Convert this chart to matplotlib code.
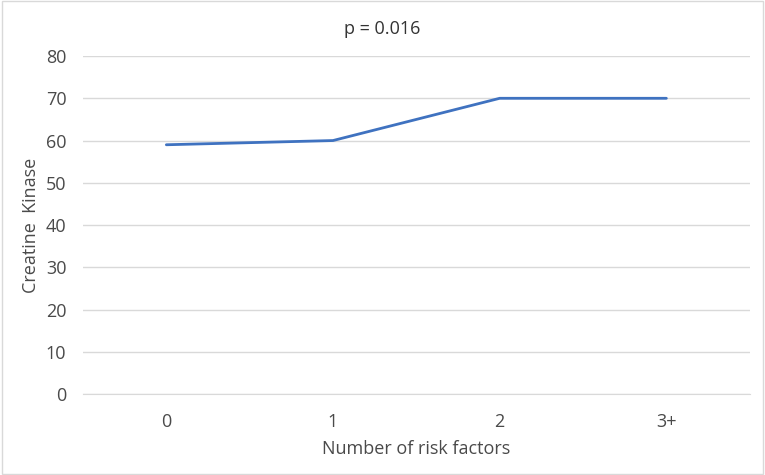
import matplotlib.pyplot as plt
from matplotlib.patches import Rectangle

# data
categories = ["0", "1", "2", "3+"]
creatine_kinase = [59, 60, 70, 70]
y_ticks = [0, 10, 20, 30, 40, 50, 60, 70, 80]

text_color = "#4A4A4A"
plt.rcParams["font.family"] = ["Open Sans", "DejaVu Sans"]

fig = plt.figure(figsize=(7.65, 4.75), dpi=100)
ax = fig.add_axes([0.1085, 0.1705, 0.8715, 0.7115])

x = list(range(len(categories)))
ax.plot(x, creatine_kinase, color="#3F72C0", linewidth=2.0, solid_capstyle="round")

ax.set_xlim(-0.5, len(categories) - 0.5)
ax.set_ylim(0, 80)
ax.set_yticks(y_ticks)
ax.set_xticks(x)
ax.set_xticklabels(categories)
ax.grid(axis="y", color="#D9D9D9", linewidth=1.0)
ax.set_axisbelow(True)
for side in ["top", "right", "left"]:
    ax.spines[side].set_visible(False)
ax.spines["bottom"].set_color("#D9D9D9")
ax.tick_params(length=0, labelsize=13, colors=text_color, pad=12)
ax.tick_params(axis="x", pad=14)

ax.set_ylabel("Creatine  Kinase", fontsize=13, color=text_color, labelpad=4)
ax.set_xlabel("Number of risk factors", fontsize=13, color=text_color, labelpad=6)
fig.text(0.5, 0.94, "p = 0.016", ha="center", va="center", fontsize=13, color="#333333")

# thin grey frame round the whole chart
fig.patches.append(Rectangle((0.002, 0.003), 0.996, 0.994, transform=fig.transFigure,
                             fill=False, edgecolor="#D9D9D9", linewidth=1.0))

fig.savefig("out.png", dpi=100)
